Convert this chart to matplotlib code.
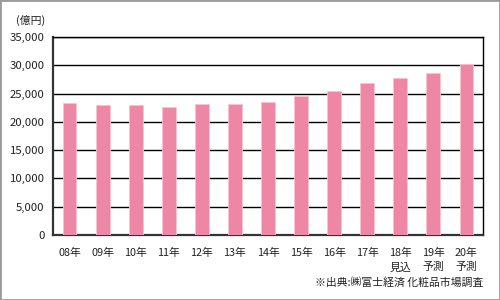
import matplotlib
matplotlib.use('Agg')
import matplotlib.pyplot as plt
from matplotlib.patches import Rectangle

plt.rcParams['font.family'] = ['Noto Sans CJK JP', 'DejaVu Sans']

years = ['08年', '09年', '10年', '11年', '12年', '13年', '14年',
         '15年', '16年', '17年', '18年\n見込', '19年\n予測', '20年\n予測']
sales = [23300, 22900, 22900, 22700, 23200, 23200, 23500,
         24500, 25400, 26800, 27800, 28700, 30200]
yticks = [0, 5000, 10000, 15000, 20000, 25000, 30000, 35000]

fig = plt.figure(figsize=(5, 3), dpi=100)
ax = fig.add_axes([53/500, 1-235/300, 430/500, 198/300])

x = range(len(years))
ax.bar(x, sales, width=0.42, color='#ee87a6', edgecolor='#f8c3d3', linewidth=0.6, zorder=3)

ax.set_xlim(-0.5, len(years) - 0.5)
ax.set_ylim(0, 35000)
ax.set_yticks(yticks)
ax.set_yticklabels([f'{v:,}' for v in yticks], fontsize=8.2, color='#222222')
ax.set_xticks(list(x))
ax.set_xticklabels(years, fontsize=7.8, color='#222222', linespacing=1.55, va='top')
ax.tick_params(length=0, pad=6)
ax.tick_params(axis='x', pad=9)
ax.grid(axis='y', color='black', linewidth=1, zorder=1)
for s in ax.spines.values():
    s.set_color('black')
    s.set_linewidth(1)
ax.spines['left'].set_linewidth(1.6)
ax.spines['left'].set_color('#333333')
ax.spines['bottom'].set_linewidth(1.6)
ax.spines['bottom'].set_color('#333333')

fig.text(31/500, 1-20/300, '(億円)', fontsize=7.8, ha='center', va='center', color='#222222')
fig.text(483/500, 1-282/300, '※出典:㈱富士経済 化粧品市場調査', fontsize=7.8,
         ha='right', va='center', color='#222222')

# outer gray frame
fig.patches.append(Rectangle((0, 0), 1, 1, transform=fig.transFigure, fill=False,
                             edgecolor='#9a9a9a', linewidth=2))

fig.savefig('out.png', dpi=100)
